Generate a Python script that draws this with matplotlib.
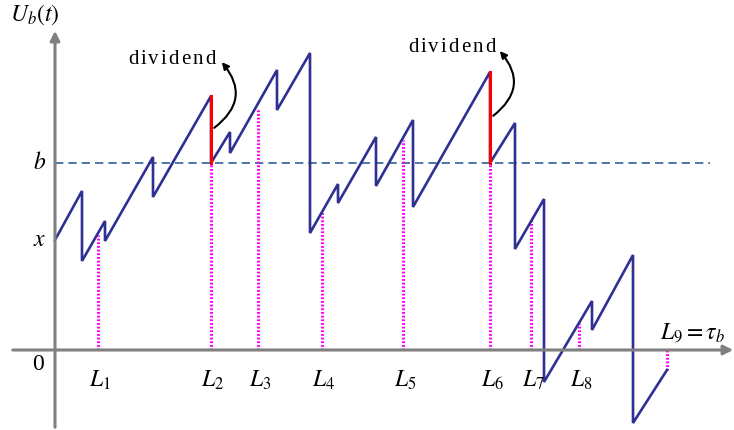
import numpy as np
import matplotlib
matplotlib.use('Agg')
import matplotlib.pyplot as plt
from matplotlib.patches import FancyArrowPatch

plt.rcParams['mathtext.fontset'] = 'stix'
plt.rcParams['font.family'] = ['Liberation Serif', 'DejaVu Serif']

# surplus path U_b(t): vertices (time, level)
t_path = [0, 27, 27, 50, 50, 98, 98, 156, 156, 175, 175, 222, 222, 255, 255,
          283, 283, 321, 321, 358, 358, 435, 435, 460, 460, 489, 489, 537, 537,
          578, 578, 612]
u_path = [110, 159, 89, 129, 109, 193, 153, 254, 187, 218, 197, 280, 240, 297, 117,
          166, 147, 213, 164, 230, 143, 278, 187, 227, 101, 151, -32, 49, 20,
          95, -73, -20]

x0 = 110
b = 187

# dividend payments (time, level before, level after)
div_t = [156, 435]
div_before = [254, 278]
div_after = [187, 187]

# ladder times L_i and the path level at each
L_t = [43, 156, 203, 267, 348, 435, 476, 524, 612]
L_u = [115, 187, 242, 138, 210, 187, 130, 27, -20]
L_names = [r'$L_{%d}$' % (i + 1) for i in range(8)] + [r'$L_9=\tau_b$']

fig = plt.figure(figsize=(7.34, 4.30), dpi=100)
ax = fig.add_axes([0, 0, 1, 1])
ax.set_xlim(-55, 679)
ax.set_ylim(-80, 350)
ax.axis('off')

grey = '#808080'
ax.annotate('', xy=(681, 0), xytext=(-45, 0), annotation_clip=False,
            arrowprops=dict(arrowstyle='-|>', color=grey, lw=2.2, mutation_scale=14))
ax.annotate('', xy=(0, 322), xytext=(0, -80), annotation_clip=False,
            arrowprops=dict(arrowstyle='-|>', color=grey, lw=2.2, mutation_scale=14))

# barrier b
ax.plot([0, 655], [b, b], color='#2F5F9A', lw=1.2, ls=(0, (5, 3)))

# ladder lines
for t, u in zip(L_t, L_u):
    ax.plot([t, t], [0, u], color='#FF00FF', lw=2.2, ls=(0, (0.6, 0.6)))

ax.plot(t_path, u_path, color='#2E3192', lw=1.9, solid_joinstyle='miter')
for t, u1, u2 in zip(div_t, div_before, div_after):
    ax.plot([t, t], [u1, u2], color='#FF0000', lw=2.2)

# dividend annotations (letter-spaced text)
fig.canvas.draw()
renderer = fig.canvas.get_renderer()
div_text = [(73, 291), (353, 302)]
arrow_end = [(165, 290), (443, 301)]
for (tx, ty), (ex, ey), t, u1, u2 in zip(div_text, arrow_end, div_t, div_before, div_after):
    cx = tx
    for ch in 'dividend':
        txt = ax.text(cx, ty, ch, fontsize=15, ha='left', va='center')
        w = txt.get_window_extent(renderer).width
        cx += w + 2.0
    ax.add_patch(FancyArrowPatch((t + 1, (u1 + u2) / 2), (ex, ey),
                                 connectionstyle='arc3,rad=0.55',
                                 arrowstyle='-|>', mutation_scale=10,
                                 color='black', lw=1.5))

# labels
fs = 17
ax.text(-20, 335, r'$U_b(t)$', fontsize=fs, ha='center', va='center')
ax.text(-15, b, r'$b$', fontsize=fs, ha='center', va='center')
ax.text(-15, x0, r'$x$', fontsize=fs, ha='center', va='center')
ax.text(-17, -15, '0', fontsize=fs, ha='center', va='center')
for i, (t, name) in enumerate(zip(L_t, L_names)):
    if i < 8:
        ax.text(t + 2, -30, name, fontsize=fs, ha='center', va='center')
    else:
        ax.text(t + 26, 17, name, fontsize=fs, ha='center', va='center')

fig.savefig('out.png', dpi=100)
